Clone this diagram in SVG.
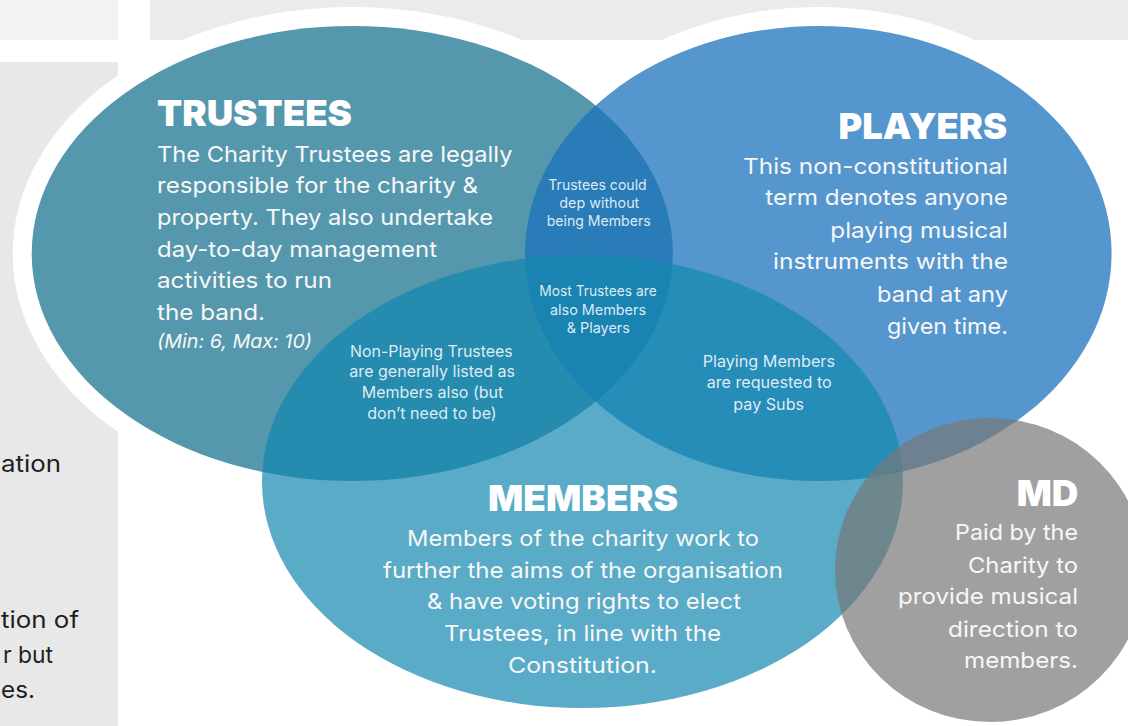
<svg xmlns="http://www.w3.org/2000/svg" width="1128" height="726" viewBox="0 0 1128 726">
<style>
.title{font-family:Inter,"Open Sans","Liberation Sans",sans-serif;font-weight:900;font-size:36px;fill:#ffffff}
.body{font-family:Inter,"Open Sans","Liberation Sans",sans-serif;font-weight:400;font-size:22px;fill:#f7f7f7}
.ital{font-family:Inter,"Open Sans","Liberation Sans",sans-serif;font-style:italic;font-size:19px;fill:#f7f7f7}
.small{font-family:Inter,"Open Sans","Liberation Sans",sans-serif;font-size:14.5px;fill:#ffffff;fill-opacity:0.85}
.small2{font-family:Inter,"Open Sans","Liberation Sans",sans-serif;font-size:16px;fill:#ffffff;fill-opacity:0.85}
.side{font-family:Inter,"Open Sans","Liberation Sans",sans-serif;font-size:23px;fill:#1f1f1f}
.halo{fill:#ffffff}
</style>
<rect x="0" y="0" width="1128" height="726" fill="#ffffff"/>
<g id="background">
  <rect x="0" y="0" width="118" height="40" fill="#f2f2f2"/>
  <rect x="150" y="0" width="978" height="40" fill="#ebebeb"/>
  <rect x="0" y="62" width="118" height="664" fill="#e8e8e8"/>
  <text class="side" x="1" y="471.7" textLength="60" lengthAdjust="spacingAndGlyphs">ation</text>
  <text class="side" x="1" y="628.3" textLength="78" lengthAdjust="spacingAndGlyphs">tion of</text>
  <text class="side" x="3" y="663.3" textLength="50" lengthAdjust="spacingAndGlyphs">r but</text>
  <text class="side" x="1" y="697.7" textLength="34" lengthAdjust="spacingAndGlyphs">es.</text>
</g>
<g id="halos">
  <ellipse class="halo" cx="352.3" cy="253.5" rx="339.6" ry="246.5"/>
  <ellipse class="halo" cx="818.3" cy="253.5" rx="312.3" ry="246.5"/>
</g>
<g id="trustees">
  <ellipse cx="352.3" cy="253.5" rx="320.6" ry="227.5" fill="#5598ad"/>
  <text class="title" x="157" y="126" textLength="195" lengthAdjust="spacingAndGlyphs">TRUSTEES</text>
  <text class="body" x="157" y="161.7" textLength="355.5" lengthAdjust="spacingAndGlyphs">The Charity Trustees are legally</text>
  <text class="body" x="157" y="193.3" textLength="321" lengthAdjust="spacingAndGlyphs">responsible for the charity &amp;</text>
  <text class="body" x="157" y="225" textLength="336" lengthAdjust="spacingAndGlyphs">property. They also undertake</text>
  <text class="body" x="157" y="256.7" textLength="280" lengthAdjust="spacingAndGlyphs">day-to-day management</text>
  <text class="body" x="157" y="288.3" textLength="175" lengthAdjust="spacingAndGlyphs">activities to run</text>
  <text class="body" x="157" y="320" textLength="108" lengthAdjust="spacingAndGlyphs">the band.</text>
  <text class="ital" x="157" y="348.3" textLength="155" lengthAdjust="spacingAndGlyphs">(Min: 6, Max: 10)</text>
</g>
<g id="players">
  <ellipse cx="818.3" cy="253.5" rx="293.3" ry="227.5" fill="#1b73bc" fill-opacity="0.75"/>
  <text class="title" x="1007" y="139.3" text-anchor="end" textLength="168.5" lengthAdjust="spacingAndGlyphs">PLAYERS</text>
  <text class="body" x="1008" y="174" text-anchor="end" textLength="265" lengthAdjust="spacingAndGlyphs">This non-constitutional</text>
  <text class="body" x="1008" y="205" text-anchor="end" textLength="242.7" lengthAdjust="spacingAndGlyphs">term denotes anyone</text>
  <text class="body" x="1008" y="237.5" text-anchor="end" textLength="177.7" lengthAdjust="spacingAndGlyphs">playing musical</text>
  <text class="body" x="1008" y="269.3" text-anchor="end" textLength="235" lengthAdjust="spacingAndGlyphs">instruments with the</text>
  <text class="body" x="1008" y="301.5" text-anchor="end" textLength="131" lengthAdjust="spacingAndGlyphs">band at any</text>
  <text class="body" x="1008" y="333.5" text-anchor="end" textLength="121" lengthAdjust="spacingAndGlyphs">given time.</text>
</g>
<g id="members">
  <ellipse cx="582.5" cy="481.5" rx="320.5" ry="226.5" fill="#1387af" fill-opacity="0.7"/>
  <text class="title" x="583" y="510.7" text-anchor="middle" textLength="190" lengthAdjust="spacingAndGlyphs">MEMBERS</text>
  <text class="body" x="583" y="546" text-anchor="middle" textLength="352" lengthAdjust="spacingAndGlyphs">Members of the charity work to</text>
  <text class="body" x="583" y="577.7" text-anchor="middle" textLength="400" lengthAdjust="spacingAndGlyphs">further the aims of the organisation</text>
  <text class="body" x="584" y="609" text-anchor="middle" textLength="314" lengthAdjust="spacingAndGlyphs">&amp; have voting rights to elect</text>
  <text class="body" x="582.5" y="641" text-anchor="middle" textLength="277" lengthAdjust="spacingAndGlyphs">Trustees, in line with the</text>
  <text class="body" x="582.5" y="672.7" text-anchor="middle" textLength="149" lengthAdjust="spacingAndGlyphs">Constitution.</text>
</g>
<g id="md">
  <ellipse cx="990" cy="570" rx="155" ry="152" fill="#777777" fill-opacity="0.7"/>
  <text class="title" x="1078.3" y="506" text-anchor="end" textLength="61.6" lengthAdjust="spacingAndGlyphs">MD</text>
  <text class="body" x="1078" y="540" text-anchor="end" textLength="123" lengthAdjust="spacingAndGlyphs">Paid by the</text>
  <text class="body" x="1078" y="572.7" text-anchor="end" textLength="110" lengthAdjust="spacingAndGlyphs">Charity to</text>
  <text class="body" x="1078" y="604" text-anchor="end" textLength="180" lengthAdjust="spacingAndGlyphs">provide musical</text>
  <text class="body" x="1078" y="636.7" text-anchor="end" textLength="130" lengthAdjust="spacingAndGlyphs">direction to</text>
  <text class="body" x="1078" y="668.3" text-anchor="end" textLength="114" lengthAdjust="spacingAndGlyphs">members.</text>
</g>
<g id="trustees-players">
  <text class="small" x="597.5" y="190" text-anchor="middle" textLength="98.4" lengthAdjust="spacingAndGlyphs">Trustees could</text>
  <text class="small" x="599.3" y="208.3" text-anchor="middle" textLength="80" lengthAdjust="spacingAndGlyphs">dep without</text>
  <text class="small" x="598.7" y="226" text-anchor="middle" textLength="104" lengthAdjust="spacingAndGlyphs">being Members</text>
</g>
<g id="all-three">
  <text class="small" x="598" y="296" text-anchor="middle" textLength="117.4" lengthAdjust="spacingAndGlyphs">Most Trustees are</text>
  <text class="small" x="598" y="315" text-anchor="middle" textLength="96" lengthAdjust="spacingAndGlyphs">also Members</text>
  <text class="small" x="598.3" y="332.7" text-anchor="middle" textLength="63.3" lengthAdjust="spacingAndGlyphs">&amp; Players</text>
</g>
<g id="trustees-members">
  <text class="small2" x="431.4" y="356.7" text-anchor="middle" textLength="162.7" lengthAdjust="spacingAndGlyphs">Non-Playing Trustees</text>
  <text class="small2" x="432.2" y="376.7" text-anchor="middle" textLength="165.7" lengthAdjust="spacingAndGlyphs">are generally listed as</text>
  <text class="small2" x="432.5" y="398.3" text-anchor="middle" textLength="141.6" lengthAdjust="spacingAndGlyphs">Members also (but</text>
  <text class="small2" x="432" y="419.3" text-anchor="middle" textLength="129.4" lengthAdjust="spacingAndGlyphs">don’t need to be)</text>
</g>
<g id="players-members">
  <text class="small2" x="768.8" y="367.3" text-anchor="middle" textLength="132.3" lengthAdjust="spacingAndGlyphs">Playing Members</text>
  <text class="small2" x="769.2" y="388.3" text-anchor="middle" textLength="125" lengthAdjust="spacingAndGlyphs">are requested to</text>
  <text class="small2" x="768.7" y="410" text-anchor="middle" textLength="70.7" lengthAdjust="spacingAndGlyphs">pay Subs</text>
</g>
<g id="connectors"/>
</svg>
